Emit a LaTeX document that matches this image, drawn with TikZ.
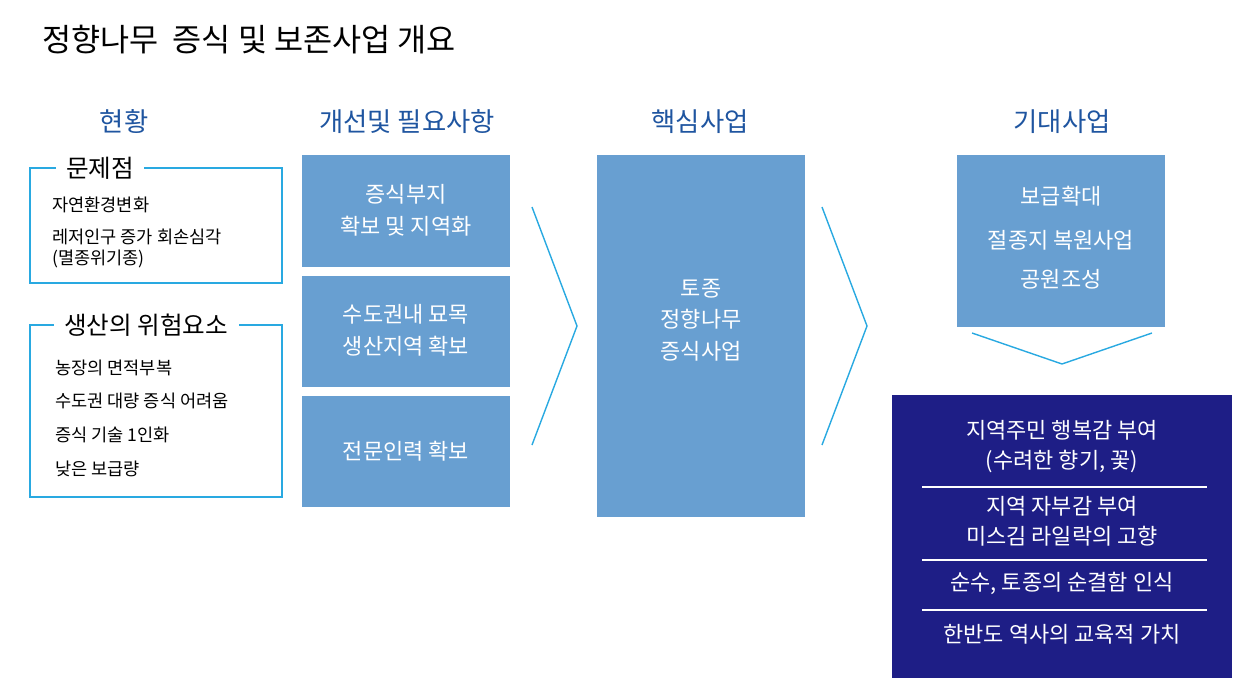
\documentclass[tikz,border=0pt]{standalone}
\usepackage{fontspec}
\setmainfont{Noto Sans CJK KR}
\definecolor{headblue}{HTML}{1F55A0}
\definecolor{lineblue}{HTML}{29A9E1}
\definecolor{boxblue}{HTML}{689FD1}
\definecolor{navy}{HTML}{1E1E86}

\tikzset{
  heading/.style={text=headblue, font=\fontsize{15}{18}\selectfont},
  item/.style={anchor=west, font=\fontsize{10}{12}\selectfont, align=left},
  boxtext/.style={text=white, align=center, font=\fontsize{12.5}{18}\selectfont},
  navytext/.style={text=white, align=center, font=\fontsize{12.5}{17}\selectfont},
  frame/.style={draw=lineblue, line width=0.8pt},
  chevron/.style={draw=lineblue, line width=0.8pt}
}

\begin{document}
\begin{tikzpicture}[x=0.02cm, y=-0.02cm]
  \useasboundingbox (0,0) rectangle (1248,696);

  % title
  \node[anchor=west, font=\fontsize{18}{22}\selectfont] (title) at (36,40) {정향나무\ \ 증식 및 보존사업 개요};

  % column headings
  \node[heading] (h1) at (124,122) {현황};
  \node[heading] (h2) at (407,122) {개선및 필요사항};
  \node[heading] (h3) at (700,122) {핵심사업};
  \node[heading] (h4) at (1062,122) {기대사업};

  % current state boxes
  \draw[frame] (30,168) rectangle (282,283);
  \node[fill=white, inner xsep=6pt, font=\fontsize{14}{16}\selectfont] (prob) at (100,168) {문제점};
  \node[item] (p1) at (46,205) {자연환경변화};
  \node[item] (p2) at (46,248) {레저인구 증가 회손심각\\(멸종위기종)};

  \draw[frame] (30,325) rectangle (282,497);
  \node[fill=white, inner xsep=6pt, font=\fontsize{14}{16}\selectfont] (risk) at (146,325) {생산의 위험요소};
  \node[item] (r1) at (49,368) {농장의 면적부복};
  \node[item] (r2) at (49,401) {수도권 대량 증식 어려움};
  \node[item] (r3) at (49,435) {증식 기술 1인화};
  \node[item] (r4) at (49,469) {낮은 보급량};

  % improvements
  \fill[boxblue] (302,155) rectangle (510,267);
  \fill[boxblue] (302,276) rectangle (510,387);
  \fill[boxblue] (302,396) rectangle (510,507);
  \node[boxtext] (need1) at (406,210) {증식부지\\확보 및 지역화};
  \node[boxtext] (need2) at (406,330) {수도권내 묘목\\생산지역 확보};
  \node[boxtext] (need3) at (406,451) {전문인력 확보};

  \draw[chevron] (532,207) -- (577,326) -- (532,445);

  % core project
  \fill[boxblue] (597,155) rectangle (805,517);
  \node[boxtext] (core) at (701,320) {토종\\정향나무\\증식사업};

  \draw[chevron] (822,207) -- (867,326) -- (822,445);

  % expected
  \fill[boxblue] (957,155) rectangle (1165,327);
  \node[boxtext] (e1) at (1061,196) {보급확대};
  \node[boxtext] (e2) at (1061,240) {절종지 복원사업};
  \node[boxtext] (e3) at (1061,279) {공원조성};

  \draw[chevron] (972,333) -- (1062,364) -- (1152,333);

  \fill[navy] (892,395) rectangle (1232,678);
  \node[navytext] (f1) at (1062,447) {지역주민 행복감 부여\\(수려한 향기, 꽃)};
  \node[navytext] (f2) at (1062,521) {지역 자부감 부여\\미스김 라일락의 고향};
  \node[navytext] (f3) at (1062,583) {순수, 토종의 순결함 인식};
  \node[navytext] (f4) at (1062,634) {한반도 역사의 교육적 가치};
  \foreach \y in {487,560,610}
    \draw[white, line width=0.6pt] (922,\y) -- (1207,\y);
\end{tikzpicture}
\end{document}
